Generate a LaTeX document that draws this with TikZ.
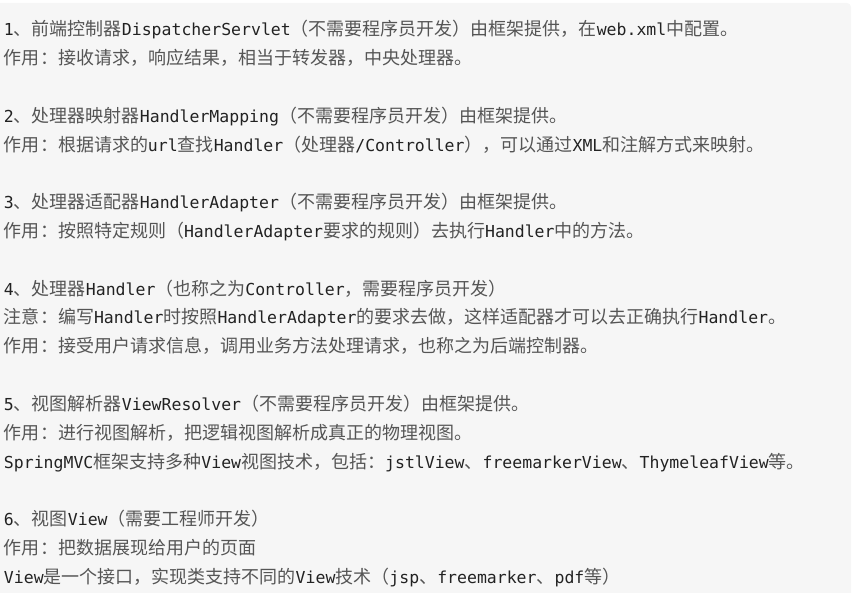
\documentclass[tikz,border=0pt]{standalone}
\usepackage{fontspec}
\setmainfont{DejaVu Sans Mono}
\newfontfamily\latfont[Scale=0.9167]{DejaVu Sans Mono}
\newfontfamily\cjkfont{Noto Sans CJK SC}
\definecolor{bgc}{HTML}{F6F6F6}
\definecolor{latc}{HTML}{222222}
\definecolor{cjkc}{HTML}{555555}
\newcommand\latf{\latfont\color{latc}}
\newcommand\cjkf{\cjkfont\color{cjkc}}
\newcount\mycnt
\newXeTeXintercharclass\mycjk
\mycnt="3000
\loop \XeTeXcharclass\mycnt=\mycjk \ifnum\mycnt<"303F \advance\mycnt 1 \repeat
\mycnt="4E00
\loop \XeTeXcharclass\mycnt=\mycjk \ifnum\mycnt<"9FFF \advance\mycnt 1 \repeat
\mycnt="FF00
\loop \XeTeXcharclass\mycnt=\mycjk \ifnum\mycnt<"FFEF \advance\mycnt 1 \repeat
\XeTeXinterchartoks 0 \mycjk={\cjkf}
\XeTeXinterchartoks 4095 \mycjk={\cjkf}
\XeTeXinterchartoks \mycjk 0={\latf}
\XeTeXinterchartokenstate=1
\begin{document}
\begin{tikzpicture}[x=1pt,y=-1pt,
  txt/.style={anchor=base west, inner sep=0pt, outer sep=0pt,
    font=\fontsize{18}{28.8}\selectfont\latf}]
\useasboundingbox (0,0) rectangle (854,593);
\fill[bgc] (0,3) -- (847,3) .. controls (849.2,3) and (851,4.8) .. (851,7) -- (851,593) -- (0,593) -- cycle;
\node[txt] (l1)  at (4,36.0)  {1、前端控制器DispatcherServlet（不需要程序员开发）由框架提供，在web.xml中配置。};
\node[txt] (l2)  at (4,64.8)  {作用：接收请求，响应结果，相当于转发器，中央处理器。};
\node[txt] (l3)  at (4,122.4) {2、处理器映射器HandlerMapping（不需要程序员开发）由框架提供。};
\node[txt] (l4)  at (4,151.2) {作用：根据请求的url查找Handler（处理器/Controller），可以通过XML和注解方式来映射。};
\node[txt] (l5)  at (4,208.8) {3、处理器适配器HandlerAdapter（不需要程序员开发）由框架提供。};
\node[txt] (l6)  at (4,237.6) {作用：按照特定规则（HandlerAdapter要求的规则）去执行Handler中的方法。};
\node[txt] (l7)  at (4,295.2) {4、处理器Handler（也称之为Controller，需要程序员开发）};
\node[txt] (l8)  at (4,324.0) {注意：编写Handler时按照HandlerAdapter的要求去做，这样适配器才可以去正确执行Handler。};
\node[txt] (l9)  at (4,352.8) {作用：接受用户请求信息，调用业务方法处理请求，也称之为后端控制器。};
\node[txt] (l10) at (4,410.4) {5、视图解析器ViewResolver（不需要程序员开发）由框架提供。};
\node[txt] (l11) at (4,439.2) {作用：进行视图解析，把逻辑视图解析成真正的物理视图。};
\node[txt] (l12) at (4,468.0) {SpringMVC框架支持多种View视图技术，包括：jstlView、freemarkerView、ThymeleafView等。};
\node[txt] (l13) at (4,525.6) {6、视图View（需要工程师开发）};
\node[txt] (l14) at (4,554.4) {作用：把数据展现给用户的页面};
\node[txt] (l15) at (4,583.2) {View是一个接口，实现类支持不同的View技术（jsp、freemarker、pdf等）};
\end{tikzpicture}
\end{document}
